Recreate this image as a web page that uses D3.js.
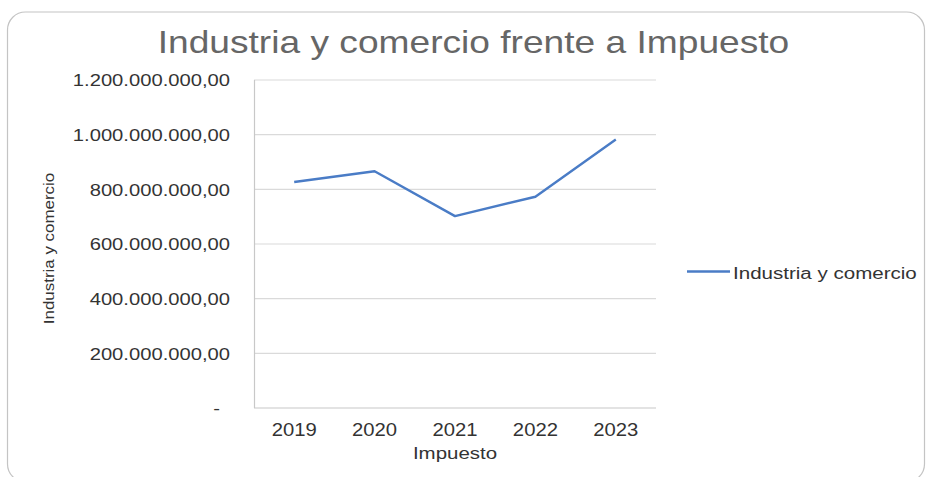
<!DOCTYPE html>
<html>
<head>
<meta charset="utf-8">
<script src="https://cdn.jsdelivr.net/npm/d3@7"></script>
<style>
  html, body { margin: 0; padding: 0; background: #fff; }
  svg { display: block; font-family: "Liberation Sans", Arial, sans-serif; }
</style>
</head>
<body>
<svg id="drawing_region"></svg>
<script>
// data
const years = ["2019", "2020", "2021", "2022", "2023"];
const values = [827000000, 866000000, 702000000, 773000000, 982000000];
const yTicks = [0, 200000000, 400000000, 600000000, 800000000, 1000000000, 1200000000];
const seriesName = "Industria y comercio";
const chartTitle = "Industria y comercio frente a Impuesto";
const xTitle = "Impuesto";
const yTitle = "Industria y comercio";

const config = {
    width: 928,
    height: 477,
    margin: { left: 254, right: 272, top: 80, bottom: 69 }
};

// widen text horizontally (the picture is stretched sideways)
function stretch(sel, sx) {
    sel.each(function() {
        const w = this.getComputedTextLength();
        this.setAttribute('textLength', w * sx);
        this.setAttribute('lengthAdjust', 'spacingAndGlyphs');
    });
}

const esLocale = d3.formatLocale({ decimal: ",", thousands: ".", grouping: [3], currency: ["", ""] });
const fmt = esLocale.format(",.2f");

const svg = d3.select('#drawing_region')
    .attr('width', config.width)
    .attr('height', config.height);

// chart frame
svg.append('rect')
    .attr('x', 7.5).attr('y', 12)
    .attr('width', 917).attr('height', 470)
    .attr('rx', 18).attr('ry', 18)
    .attr('fill', '#fff')
    .attr('stroke', '#c4c4c4')
    .attr('stroke-width', 1.2);

const x0 = config.margin.left;
const x1 = config.width - config.margin.right;
const yTop = config.margin.top;
const yBot = config.height - config.margin.bottom;

const xScale = d3.scaleBand()
    .domain(years)
    .range([x0, x1])
    .padding(0);

const yScale = d3.scaleLinear()
    .domain([0, 1200000000])
    .range([yBot, yTop]);

// gridlines
svg.append('g')
    .selectAll('line')
    .data(yTicks)
    .join('line')
    .attr('x1', x0).attr('x2', x1)
    .attr('y1', d => yScale(d)).attr('y2', d => yScale(d))
    .attr('stroke', d => d === 0 ? '#c8c8c8' : '#dadada')
    .attr('stroke-width', 1.2);

// y axis
const yAxis = svg.append('g')
    .attr('transform', `translate(${x0},0)`)
    .call(d3.axisLeft(yScale).tickValues(yTicks).tickSize(0).tickPadding(24)
        .tickFormat(d => d === 0 ? "-" : fmt(d)));
yAxis.select('.domain')
    .attr('stroke', '#c8c8c8')
    .attr('stroke-width', 1.2)
    .attr('d', `M0.5,${yTop}V${yBot}`);
yAxis.selectAll('text')
    .attr('font-size', 16.3)
    .attr('fill', '#333')
    .attr('dy', '0.35em')
    .attr('x', d => d === 0 ? -34 : -24);
stretch(yAxis.selectAll('text'), 1.24);

// x axis
const xAxis = svg.append('g')
    .attr('transform', `translate(0,${yBot})`)
    .call(d3.axisBottom(xScale).tickSize(0).tickPadding(15));
xAxis.select('.domain').remove();
xAxis.selectAll('text')
    .attr('font-size', 18.6)
    .attr('fill', '#333')
    .attr('dy', '0.71em');
stretch(xAxis.selectAll('text'), 1.09);

// line
const line = d3.line()
    .x((d, i) => xScale(years[i]) + xScale.bandwidth() / 2)
    .y(d => yScale(d));

svg.append('path')
    .datum(values)
    .attr('d', line)
    .attr('fill', 'none')
    .attr('stroke', '#4a7cc6')
    .attr('stroke-width', 2.4)
    .attr('stroke-linejoin', 'round');

// title
const title = svg.append('text')
    .attr('x', 473.5).attr('y', 52.5)
    .attr('text-anchor', 'middle')
    .attr('font-size', 30.7)
    .attr('fill', '#666')
    .text(chartTitle);
stretch(title, 1.21);

// axis titles
const xt = svg.append('text')
    .attr('x', 455).attr('y', 458.5)
    .attr('text-anchor', 'middle')
    .attr('font-size', 17.2)
    .attr('fill', '#333')
    .text(xTitle);
stretch(xt, 1.19);

const yt = svg.append('text')
    .attr('transform', 'translate(54,248.5) rotate(-90)')
    .attr('text-anchor', 'middle')
    .attr('font-size', 15.4)
    .attr('fill', '#333')
    .text(yTitle);
stretch(yt, 1.1);

// legend
const legend = svg.append('g')
    .attr('transform', 'translate(687,271.5)');
legend.append('line')
    .attr('x1', 0).attr('x2', 43)
    .attr('y1', 0).attr('y2', 0)
    .attr('stroke', '#4a7cc6')
    .attr('stroke-width', 2.4);
const lt = legend.append('text')
    .attr('x', 46).attr('y', 7.5)
    .attr('font-size', 15.8)
    .attr('fill', '#333')
    .text(seriesName);
stretch(lt, 1.3);
</script>
</body>
</html>
